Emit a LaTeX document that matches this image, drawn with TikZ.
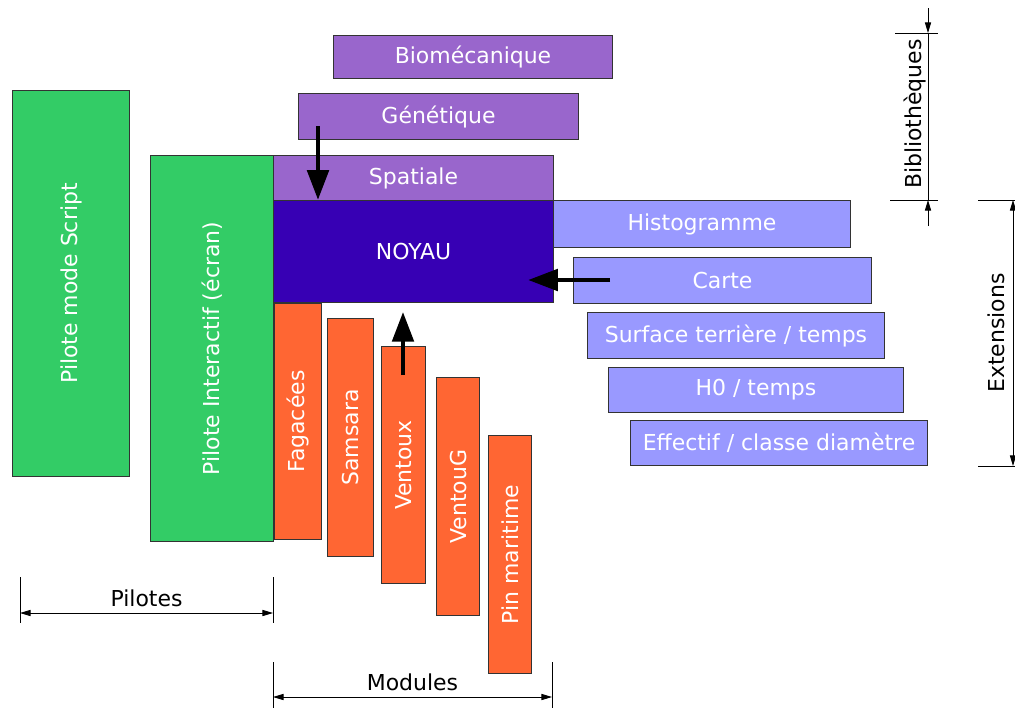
\documentclass[tikz,border=0pt]{standalone}
\usepackage{fontspec}
\setmainfont{DejaVu Sans}
\usepackage{xcolor}
\usetikzlibrary{arrows.meta}
\definecolor{pilotgreen}{RGB}{51,204,102}
\definecolor{libpurple}{RGB}{153,102,204}
\definecolor{noyaublue}{RGB}{55,0,180}
\definecolor{extblue}{RGB}{153,153,255}
\definecolor{modorange}{RGB}{255,102,51}

\begin{document}
\begin{tikzpicture}[x=0.02cm, y=-0.02cm,
        blk/.style = {draw = black!80, line width = 0.6pt, anchor = north west, inner sep = 0pt, text = white, font = \fontsize{12.5}{15}\selectfont},
        lib/.style = {blk, fill = libpurple},
        ext/.style = {blk, fill = extblue},
        pilot/.style = {blk, fill = pilotgreen},
        modl/.style = {blk, fill = modorange},
        bigarrow/.style = {line width = 2.8pt, -{Triangle[length = 17pt, width = 12pt]}},
        dimline/.style = {line width = 0.5pt},
        dimarrow/.style = {line width = 0.5pt, {Triangle[length = 6pt, width = 3.5pt]}-{Triangle[length = 6pt, width = 3.5pt]}},
        dimlabel/.style = {font = \fontsize{12.5}{15}\selectfont}]
        \useasboundingbox (0,0) rectangle (1015,708);
        %Bibliotheques
        \node[lib, minimum width = 5.58cm, minimum height = 0.86cm] (bio) at (333,35) {Biomécanique};
        \node[lib, minimum width = 5.60cm, minimum height = 0.92cm] (gen) at (298,93) {Génétique};
        \node[lib, minimum width = 5.60cm, minimum height = 0.90cm] (spa) at (273,155) {Spatiale};
        %Pilotes
        \node[pilot, minimum width = 2.34cm, minimum height = 7.72cm] (script) at (12,90) {};
        \node[rotate = 90, text = white, font = \fontsize{12.5}{15}\selectfont] at (script.center) {Pilote mode Script};
        \node[pilot, minimum width = 2.46cm, minimum height = 7.72cm] (inter) at (150,155) {};
        \node[rotate = 90, text = white, font = \fontsize{12.5}{15}\selectfont] at (inter.center) {Pilote Interactif (écran)};
        %Extensions
        \node[ext, minimum width = 5.94cm, minimum height = 0.94cm] (hist) at (553,200) {Histogramme};
        \node[ext, minimum width = 5.96cm, minimum height = 0.92cm] (carte) at (573,257) {Carte};
        \node[ext, minimum width = 5.94cm, minimum height = 0.92cm] (surf) at (587,312) {Surface terrière / temps};
        \node[ext, minimum width = 5.90cm, minimum height = 0.90cm] (hzero) at (608,367) {H0 / temps};
        \node[ext, minimum width = 5.94cm, minimum height = 0.90cm] (eff) at (630,420) {Effectif / classe diamètre};
        %Noyau
        \node[blk, fill = noyaublue, minimum width = 5.60cm, minimum height = 2.04cm] (noyau) at (273,200) {NOYAU};
        %Modules
        \node[modl, minimum width = 0.94cm, minimum height = 4.72cm] (fag) at (274,303) {};
        \node[modl, minimum width = 0.92cm, minimum height = 4.76cm] (sam) at (327,318) {};
        \node[modl, minimum width = 0.88cm, minimum height = 4.74cm] (ven) at (381,346) {};
        \node[modl, minimum width = 0.86cm, minimum height = 4.76cm] (veg) at (436,377) {};
        \node[modl, minimum width = 0.86cm, minimum height = 4.76cm] (pin) at (488,435) {};
        \foreach \m/\t in {fag/Fagacées, sam/Samsara, ven/Ventoux, veg/VentouG, pin/Pin maritime} {
            \node[rotate = 90, text = white, font = \fontsize{12.5}{15}\selectfont] at (\m.center) {\t};
        }
        %Arrows into the core
        \coordinate (genout) at (318,126);
        \coordinate (carteout) at (610,280);
        \coordinate (venout) at (403,375);
        \draw[bigarrow] (genout) -- (genout |- noyau.north);
        \draw[bigarrow] (carteout) -- (528,280);
        \draw[bigarrow] (venout) -- ([yshift = -5] venout |- noyau.south);
        %Dimension: Pilotes
        \draw[dimline] (20,577) -- (20,623) (273,577) -- (273,623);
        \draw[dimarrow] (20,613) -- node[dimlabel, midway, anchor = south] {Pilotes} (273,613);
        %Dimension: Modules
        \draw[dimline] (273,662) -- (273,708) (552,662) -- (552,708);
        \draw[dimarrow] (273,697) -- node[dimlabel, midway, anchor = south] {Modules} (552,697);
        %Dimension: Bibliotheques
        \draw[dimline] (895,33) -- (938,33) (890,200) -- (938,200);
        \draw[dimline] (928,33) -- (928,200);
        \draw[dimline, -{Triangle[length = 6pt, width = 3.5pt]}] (928,8) -- (928,33);
        \draw[dimline, -{Triangle[length = 6pt, width = 3.5pt]}] (928,226) -- (928,200);
        \node[dimlabel, rotate = 90] (biblab) at (915,114) {Bibliothèques};
        %Dimension: Extensions
        \draw[dimline] (978,200) -- (1015,200) (978,466) -- (1015,466);
        \draw[dimarrow] (1013,200) -- node[dimlabel, midway, rotate = 90, anchor = south, yshift = 1pt] {Extensions} (1013,466);
    \end{tikzpicture}
\end{document}
